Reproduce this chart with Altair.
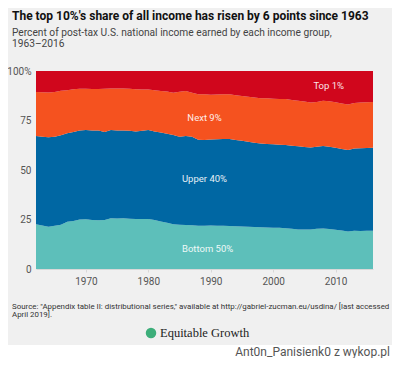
import altair as alt
import pandas as pd

years = list(range(1962, 2017))

# Upper boundary of each band (cumulative share, %)
bottom50 = [22.6, 22.0, 21.4, 21.8, 22.3, 23.9, 24.3, 25.0, 25.1, 24.8,
            24.6, 24.8, 25.6, 25.5, 25.6, 25.4, 25.2, 25.3, 25.3, 24.8,
            24.0, 23.3, 22.6, 22.3, 22.2, 22.1, 21.9, 21.9, 22.0, 21.9,
            21.9, 21.7, 21.6, 21.5, 21.3, 21.2, 21.1, 20.9, 20.8, 20.8,
            20.6, 20.3, 20.0, 19.9, 20.0, 20.3, 20.5, 20.2, 19.8, 19.4,
            18.9, 19.3, 19.2, 19.3, 19.3]
upto90 = [67.2, 66.8, 66.5, 66.8, 67.6, 68.5, 69.2, 70.0, 70.2, 70.0,
          70.0, 69.2, 70.2, 70.0, 70.0, 69.8, 69.5, 69.8, 70.2, 69.5,
          68.9, 68.3, 67.7, 66.8, 67.2, 66.8, 65.3, 65.1, 65.4, 65.5,
          65.6, 65.6, 65.2, 64.8, 64.3, 63.8, 63.4, 63.1, 63.0, 62.8,
          62.6, 62.3, 62.0, 61.6, 61.4, 61.8, 62.1, 61.8, 61.2, 60.6,
          60.1, 60.8, 61.0, 61.1, 61.2]
upto99 = [89.4, 89.3, 89.2, 89.4, 90.0, 90.3, 90.8, 91.0, 91.0, 90.9,
          90.9, 91.0, 91.2, 91.2, 91.1, 91.0, 90.8, 90.7, 90.6, 90.3,
          89.9, 89.6, 89.0, 89.5, 89.9, 89.0, 88.2, 88.2, 88.0, 88.1,
          88.2, 88.2, 87.8, 87.4, 87.0, 86.6, 86.3, 86.2, 86.0, 85.9,
          85.8, 85.4, 85.0, 84.6, 84.1, 84.4, 85.0, 84.7, 84.2, 83.6,
          83.1, 83.9, 84.1, 84.2, 84.3]
upto100 = [100.0] * len(years)
zero = [0.0] * len(years)

label_names = ["Top 1%", "Next 9%", "Upper 40%", "Bottom 50%"]
label_years = [2008.9, 1989.0, 1989.0, 1989.5]
label_values = [92.4, 76.3, 45.5, 10.1]

band_colors = {"Top 1%": "#D0061C", "Next 9%": "#F5521F",
               "Upper 40%": "#0067A3", "Bottom 50%": "#5DBFBA"}

df = pd.DataFrame({"year": years, "zero": zero, "b50": bottom50,
                   "c90": upto90, "c99": upto99, "c100": upto100})
labels = pd.DataFrame({"name": label_names, "year": label_years, "value": label_values})

W, H = 337, 198
BG = "#F0F0F0"
FONT = "Roboto"

xscale = alt.Scale(domain=[1962, 2016], nice=False, zero=False)
yscale = alt.Scale(domain=[0, 100], nice=False)

base = alt.Chart(df)

def band(lo, hi, color, axes=False):
    if axes:
        x = alt.X("year:Q", scale=xscale, title=None,
                  axis=alt.Axis(values=[1970, 1980, 1990, 2000, 2010], format="d",
                                grid=False, domain=True, domainColor="#d8d8d8",
                                ticks=True, tickColor="#d8d8d8", tickSize=3,
                                labelColor="#555555", labelFontSize=10, labelFont=FONT,
                                labelPadding=4))
        y = alt.Y(f"{hi}:Q", scale=yscale, title=None,
                  axis=alt.Axis(values=[0, 25, 50, 75, 100], grid=False, domain=False,
                                ticks=False, labelColor="#555555", labelFontSize=10,
                                labelFont=FONT, labelPadding=5,
                                labelExpr="datum.value == 100 ? '100%' : datum.label"))
    else:
        x = alt.X("year:Q", scale=xscale)
        y = alt.Y(f"{hi}:Q", scale=yscale)
    return base.mark_area(color=color, opacity=1).encode(x=x, y=y, y2=alt.Y2(f"{lo}:Q"))

areas = [
    band("zero", "b50", band_colors["Bottom 50%"], axes=True),
    band("b50", "c90", band_colors["Upper 40%"]),
    band("c90", "c99", band_colors["Next 9%"]),
    band("c99", "c100", band_colors["Top 1%"]),
]

band_labels = alt.Chart(labels).mark_text(
    color="white", fontSize=9.5, font=FONT, opacity=0.9
).encode(x=alt.X("year:Q", scale=xscale), y=alt.Y("value:Q", scale=yscale),
         text="name:N")

def txt(s, x, y, size, color="#222222", weight="normal", font=FONT, align="left"):
    return alt.Chart(pd.DataFrame({"t": [s]})).mark_text(
        align=align, baseline="middle", fontSize=size, color=color,
        fontWeight=weight, font=font
    ).encode(x=alt.value(x), y=alt.value(y), text="t:N")

title = txt("The top 10%'s share of all income has risen by 6 points since 1963",
            -24, -55, 12.0, "#111111", "bold")
sub1 = txt("Percent of post-tax U.S. national income earned by each income group,",
           -24, -38, 10.2, "#444444")
sub2 = txt("1963–2016", -24, -27, 10.2, "#444444")
src1 = txt("Source: \"Appendix table II: distributional series,\" available at "
           "http://gabriel-zucman.eu/usdina/ [last accessed", -24, 235.5, 7.9, "#333333")
src2 = txt("April 2019].", -24, 243.5, 7.9, "#333333")

logo_dot = alt.Chart(pd.DataFrame({"t": [1]})).mark_circle(
    color="#3DAE7A", opacity=1, size=110
).encode(x=alt.value(115), y=alt.value(262))
logo_txt = txt("Equitable Growth", 124, 262, 12.5, "#222222", font="Liberation Serif")

band_white = alt.Chart(pd.DataFrame({"t": [1]})).mark_rect(color="white").encode(
    x=alt.value(-40), x2=alt.value(370), y=alt.value(274), y2=alt.value(300))
watermark = txt("Ant0n_Panisienk0  z  wykop.pl", 354, 280.5, 12, "#555555", align="right")

chart = alt.layer(*areas, band_labels, title, sub1, sub2, src1, src2,
                  band_white, watermark, logo_dot, logo_txt).properties(
    width=W, height=H,
    autosize=alt.AutoSizeParams(type="none"),
    padding={"left": 28, "top": 63, "right": 19, "bottom": 89},
    background=BG,
).configure_view(stroke=None)

chart.save("out.html", embed_options={"renderer": "svg", "actions": False})
